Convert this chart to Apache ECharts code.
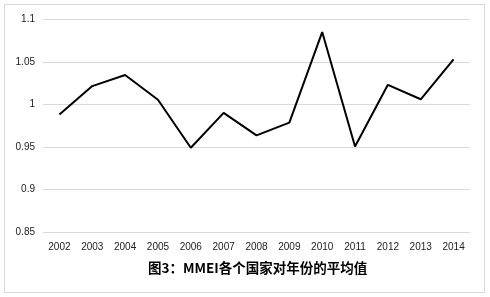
<!DOCTYPE html>
<html>
<head>
<meta charset="utf-8">
<script src="https://cdn.jsdelivr.net/npm/echarts@6/dist/echarts.min.js"></script>
<style>
html,body{margin:0;padding:0;background:#fff;}
#c{width:490px;height:297px;}
</style>
</head>
<body>
<div id="c"></div>
<script>
const years = ['2002','2003','2004','2005','2006','2007','2008','2009','2010','2011','2012','2013','2014'];
const values = [0.988, 1.0215, 1.0345, 1.0055, 0.949, 0.990, 0.9635, 0.9785, 1.085, 0.9505, 1.023, 1.006, 1.053];
const yTicks = [0.85, 0.9, 0.95, 1, 1.05, 1.1];
const titleText = '图3：MMEI各个国家对年份的平均值';

const chart = echarts.init(document.getElementById('c'), null, {renderer:'canvas'});
chart.setOption({
  animation:false,
  backgroundColor:'#fff',
  grid:{left:43, right:20, top:19.3, bottom:65, containLabel:false},
  graphic:[
    {type:'rect', shape:{x:4.5, y:4.5, width:480, height:288}, style:{fill:'none', stroke:'#d9d9d9', lineWidth:1}, z:-1},
    {type:'text', left:148, top:261, style:{text:titleText, font:'bold 13.5px "Noto Sans CJK SC", sans-serif', fill:'#000'}}
  ],
  xAxis:{
    type:'category', data:years, boundaryGap:true,
    axisLine:{show:false}, axisTick:{show:false},
    axisLabel:{color:'#222', fontSize:10, fontFamily:'"Liberation Sans", sans-serif', margin:10, interval:0}
  },
  yAxis:{
    type:'value', min:yTicks[0], max:yTicks[yTicks.length-1], interval:0.05,
    axisLine:{show:false}, axisTick:{show:false},
    axisLabel:{color:'#222', fontSize:10, fontFamily:'"Liberation Sans", sans-serif', margin:8,
      formatter:v=>String(parseFloat(v.toFixed(2)))},
    splitLine:{lineStyle:{color:'#d9d9d9', width:1}}
  },
  series:[{
    type:'line', data:values, symbol:'none',
    lineStyle:{color:'#000', width:2}
  }]
});
</script>
</body>
</html>
